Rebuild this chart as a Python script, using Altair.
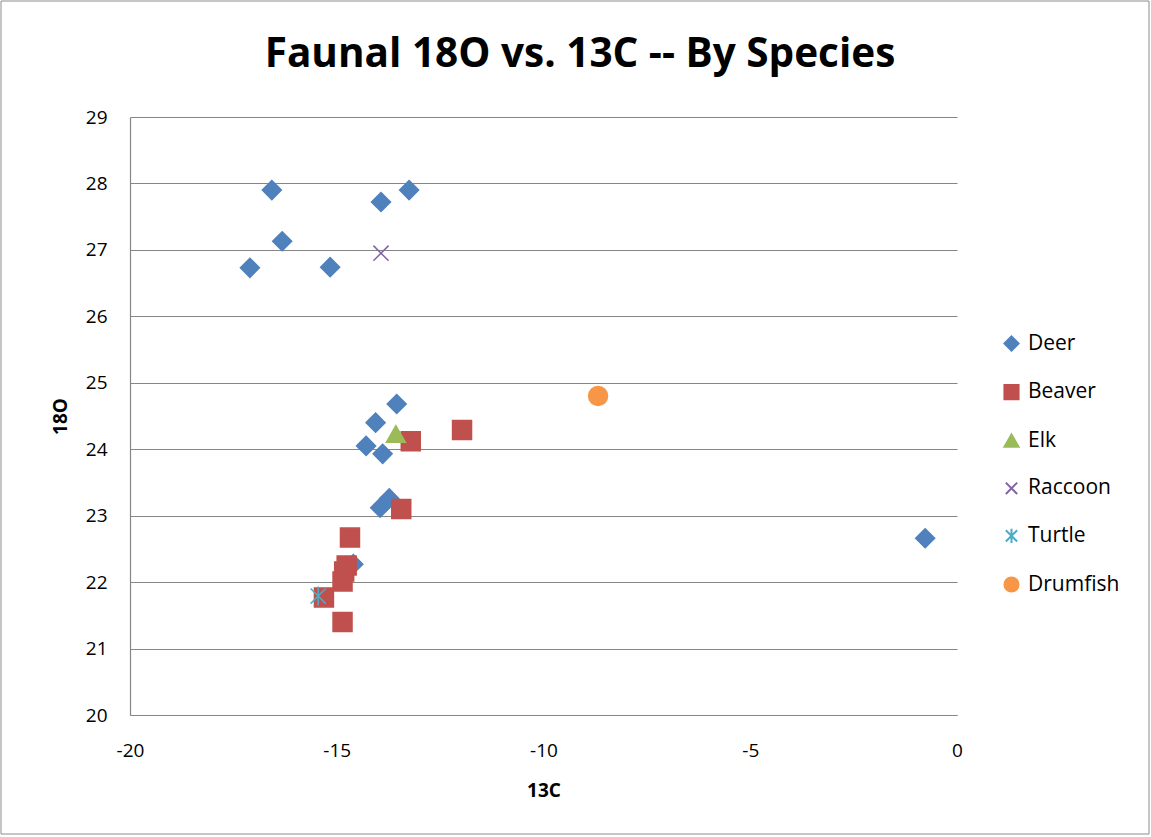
import altair as alt
import pandas as pd

species_order = ["Deer", "Beaver", "Elk", "Raccoon", "Turtle", "Drumfish"]

deer_c13 = [-16.57, -16.32, -17.10, -15.16, -13.93, -13.25, -13.55, -14.06, -14.29, -13.89, -13.73, -13.95, -14.60, -0.77]
deer_o18 = [27.90, 27.13, 26.73, 26.74, 27.72, 27.90, 24.68, 24.40, 24.05, 23.93, 23.26, 23.12, 22.27, 22.66]

beaver_c13 = [-11.97, -13.21, -13.44, -14.68, -14.76, -14.82, -14.86, -15.31, -14.86]
beaver_o18 = [24.29, 24.12, 23.10, 22.67, 22.25, 22.16, 22.01, 21.77, 21.40]

elk_c13 = [-13.57]
elk_o18 = [24.23]

raccoon_c13 = [-13.93]
raccoon_o18 = [26.95]

turtle_c13 = [-15.45]
turtle_o18 = [21.79]

drumfish_c13 = [-8.68]
drumfish_o18 = [24.80]

title_text = "Faunal 18O vs. 13C -- By Species"

rows = []
for name, xs, ys in [
    ("Deer", deer_c13, deer_o18),
    ("Beaver", beaver_c13, beaver_o18),
    ("Elk", elk_c13, elk_o18),
    ("Raccoon", raccoon_c13, raccoon_o18),
    ("Turtle", turtle_c13, turtle_o18),
    ("Drumfish", drumfish_c13, drumfish_o18),
]:
    for x, y in zip(xs, ys):
        rows.append({"Species": name, "13C": x, "18O": y})
df = pd.DataFrame(rows)

stroke_colors = ["#4F81BD", "#C0504D", "#9BBB59", "#8064A2", "#4BACC6", "#F79646"]
fill_colors = ["#4F81BD", "#C0504D", "#9BBB59", "transparent", "transparent", "#F79646"]
shapes = [
    "diamond",
    "square",
    "triangle-up",
    "M-0.8,-0.8L0.8,0.8M-0.8,0.8L0.8,-0.8",
    "M-0.8,-0.8L0.8,0.8M-0.8,0.8L0.8,-0.8M0,-1L0,1",
    "circle",
]

FONT = "Open Sans"

legend = alt.Legend(
    title=None, orient="none", legendX=871, legendY=216,
    labelFont=FONT, labelFontSize=21, labelColor="#000000",
    symbolSize=200, rowPadding=25.6, labelOffset=6, symbolStrokeWidth=2,
)

points = alt.Chart(df).mark_point(size=360, strokeWidth=1.5, opacity=1).encode(
    x=alt.X("13C:Q", scale=alt.Scale(domain=[-20, 0], nice=False),
            axis=alt.Axis(values=[-20, -15, -10, -5, 0], grid=False, title="13C",
                          labelFlush=False,
                          labelExpr="replace(datum.label, '\u2212', '-')")),
    y=alt.Y("18O:Q", scale=alt.Scale(domain=[20, 29], nice=False, zero=False),
            axis=alt.Axis(values=list(range(20, 30)), grid=True, title="18O",
                          labelFlush=False)),
    shape=alt.Shape("Species:N", scale=alt.Scale(domain=species_order, range=shapes), legend=legend),
    stroke=alt.Stroke("Species:N", scale=alt.Scale(domain=species_order, range=stroke_colors), legend=legend),
    fill=alt.Fill("Species:N", scale=alt.Scale(domain=species_order, range=fill_colors), legend=legend),
)

deco = pd.DataFrame({"a": [0]})

border = alt.Chart(deco).mark_rect(
    fill="transparent", stroke="#8C8C8C", strokeWidth=1
).encode(
    x=alt.value(-129), x2=alt.value(1019), y=alt.value(-116), y2=alt.value(717)
)

title = alt.Chart(deco).mark_text(
    font=FONT, fontSize=40.5, fontWeight="bold", color="#000000",
    align="center", baseline="middle",
).encode(
    x=alt.value(450), y=alt.value(-62), text=alt.value(title_text)
)

chart = alt.layer(border, points, title).properties(
    width=827, height=598,
    padding={"left": 130, "top": 117, "right": 194, "bottom": 122},
    autosize=alt.AutoSizeParams(type="none"),
    background="white",
).configure_view(stroke=None).configure_axis(
    labelFont=FONT, labelFontSize=19, labelColor="#000000",
    titleFont=FONT, titleFontSize=19, titleFontWeight="bold", titleColor="#000000",
    domainColor="#868686", gridColor="#868686",
    domainWidth=1.2, gridWidth=1.2, ticks=False,
).configure_axisX(
    labelPadding=26, titlePadding=21,
).configure_axisY(
    labelPadding=23, titlePadding=15,
)

chart.save("out.html", embed_options={"renderer": "svg", "actions": False})
